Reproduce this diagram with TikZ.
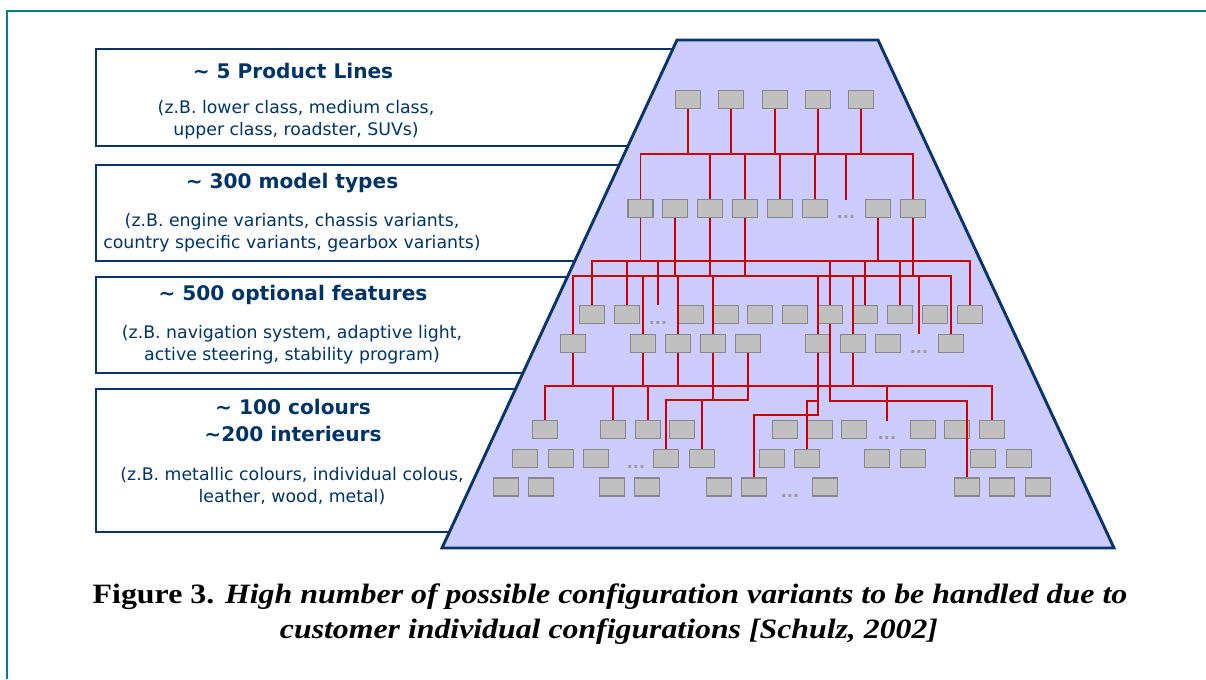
\documentclass[tikz,border=0pt]{standalone}
\usepackage{fontspec}
\usepackage{graphicx}
\setmainfont{Liberation Serif}
\newfontfamily\labfont{DejaVu Sans}
\definecolor{frameteal}{HTML}{008080}
\definecolor{navy}{HTML}{0B3468}
\definecolor{navytext}{HTML}{003366}
\definecolor{trapfill}{HTML}{CCCCFF}
\definecolor{boxfill}{HTML}{C0C0C0}
\definecolor{boxgray}{HTML}{878787}
\definecolor{dotgray}{HTML}{999999}
\definecolor{wirered}{HTML}{CC0000}
\begin{document}
\begin{tikzpicture}[x=0.75pt,y=-0.75pt,
  gbox/.style={draw=boxgray,fill=boxfill,line width=1pt,minimum width=18.8pt,minimum height=13.6pt,inner sep=0pt},
  wire/.style={draw=wirered,line width=1pt},
  dotlbl/.style={text=dotgray,font=\labfont\bfseries\fontsize{12}{12}\selectfont,inner sep=0pt,anchor=base},
  leftbox/.style={draw=navy,line width=1.1pt},
  ttl/.style={text=navytext,font=\labfont\bfseries\fontsize{15.1}{20.25}\selectfont,align=center,inner sep=0pt},
  sublbl/.style={text=navytext,font=\labfont\fontsize{13}{16.5}\selectfont,align=center,inner sep=0pt},
  captext/.style={font=\fontsize{21}{25}\selectfont\bfseries,inner sep=0pt}]
\useasboundingbox (0,0) rectangle (1206,679);
% frame
\draw[frameteal,line width=1.9pt] (1206,11) -- (7,11) -- (7,679);
% left boxes
\draw[leftbox] (96,49) rectangle (760,146);
\draw[leftbox] (96,165) rectangle (760,261);
\draw[leftbox] (96,277) rectangle (760,373);
\draw[leftbox] (96,389) rectangle (760,532);
% trapezoid
\draw[draw=navy,line width=2.2pt,fill=trapfill,line join=miter] (677,40) -- (878,40) -- (1114,548) -- (442,548) -- cycle;
% texts
\node[ttl] (t1) at (293,71) {\string~ 5 Product Lines};
\node[sublbl] (s1) at (296,119.5) {(z.B. lower class, medium class,\\upper class, roadster, SUVs)};
\node[ttl] (t2) at (292,183) {\string~ 300 model types};
\node[sublbl] (s2) at (292,232.5) {(z.B. engine variants, chassis variants,\\country specific variants, gearbox variants)};
\node[ttl] (t3) at (293,295) {\string~ 500 optional features};
\node[sublbl] (s3) at (292,344.5) {(z.B. navigation system, adaptive light,\\active steering, stability program)};
\node[ttl] (t4) at (293,420.5) {\string~ 100 colours\\\string~200 interieurs};
\node[sublbl] (s4) at (292,486) {(z.B. metallic colours, individual colous,\\leather, wood, metal)};
% row 1
\foreach \x [count=\i] in {688,731,775,818,861} \node[gbox] (a\i) at (\x,99.5) {};
% row 2
\foreach \x [count=\i] in {640.5,675,710,745,780,815,878,913} \node[gbox] (b\i) at (\x,208.5) {};
\node[dotlbl] (bdots) at (846,218) {...};
% row 3
\foreach \x [count=\i] in {592,627,691,726,760,795,830,865,900,935,970} \node[gbox] (c\i) at (\x,314.5) {};
\node[dotlbl] (cdots) at (658,324) {...};
% row 4
\foreach \x [count=\i] in {573,643,678,713,748,818,853,888,951} \node[gbox] (d\i) at (\x,343.5) {};
\node[dotlbl] (ddots) at (919,353) {...};
% row 5
\foreach \x [count=\i] in {545,613,648,682,785,820,854,923,957,992} \node[gbox] (e\i) at (\x,429.5) {};
\node[dotlbl] (edots) at (887,439) {...};
% row 6
\foreach \x [count=\i] in {525,561,596,666,702,772,807,877,913,983,1019} \node[gbox] (f\i) at (\x,458.5) {};
\node[dotlbl] (fdots) at (636,468) {...};
% row 7
\foreach \x [count=\i] in {506,541,612,647,719,754,825,967,1002,1038} \node[gbox] (g\i) at (\x,487) {};
\node[dotlbl] (gdots) at (790,497) {...};
% bus levels
\coordinate (yA) at (0,154);
\coordinate (yB) at (0,261);
\coordinate (yC) at (0,276);
\coordinate (yD) at (0,386);
\coordinate (yE) at (0,400);
\coordinate (yF) at (0,401);
\coordinate (yG) at (0,415);
% level 1 -> 2
\foreach \n in {a1,a2,a3,a4,a5} \draw[wire] (\n.south) -- (\n.south |- yA);
\draw[wire] (b1.north) -- (b1.north |- yA) -- (b8.north |- yA) -- (b8.north);
\foreach \n in {b3,b4,b5,b6} \draw[wire] (\n.north |- yA) -- (\n.north);
\coordinate (pA) at (846,200);
\draw[wire] (pA |- yA) -- (pA);
% level 2 -> 3/4
\draw[wire] (b1.south) -- (b1.south |- yB);
\draw[wire] (b7.south) -- (b7.south |- yB);
\foreach \n in {b2,b3,b4,b8} \draw[wire] (\n.south) -- (\n.south |- yC);
\draw[wire] (c1.north) -- (c1.north |- yB) -- (c11.north |- yB) -- (c11.north);
\foreach \n in {c2,c7,c8,c9} \draw[wire] (\n.north |- yB) -- (\n.north);
\coordinate (pB) at (658,305);
\draw[wire] (pB |- yB) -- (pB);
\draw[wire] (d1.north) -- (d1.north |- yC) -- (d9.north |- yC) -- (d9.north);
\foreach \n in {d2,d3,d4,d6,d7} \draw[wire] (\n.north |- yC) -- (\n.north);
\coordinate (pC) at (919,334);
\draw[wire] (pC |- yC) -- (pC);
% level 3/4 -> 5/6/7
\foreach \n in {d1,d2,d3,d7} \draw[wire] (\n.south) -- (\n.south |- yD);
\draw[wire] (e1.north) -- (e1.north |- yD) -- (e10.north |- yD) -- (e10.north);
\foreach \n in {e2,e3} \draw[wire] (\n.north |- yD) -- (\n.north);
\coordinate (pD) at (887,421);
\draw[wire] (pD |- yD) -- (pD);
\draw[wire] (d4.south) -- (d4.south |- yE);
\draw[wire] (d5.south) -- (d5.south |- yE) -- (f4.north |- yE) -- (f4.north);
\draw[wire] (f5.north |- yE) -- (f5.north);
\draw[wire] (c7.south) -- (c7.south |- yF) -- (g8.north |- yF) -- (g8.north);
\draw[wire] (d6.south) -- (d6.south |- yG) -- (g6.north |- yG) -- (g6.north);
\draw[wire] (d6.south |- yF) -- (f7.north |- yF) -- (f7.north);
% caption
\node[captext] (cap1) at (610,597) {\resizebox{776pt}{\height}{Figure 3. \itshape High number of possible configuration variants to be handled due to}};
\node[captext] (cap2) at (609,632) {\resizebox{493.5pt}{\height}{\itshape customer individual configurations [Schulz, 2002]}};
\end{tikzpicture}
\end{document}
